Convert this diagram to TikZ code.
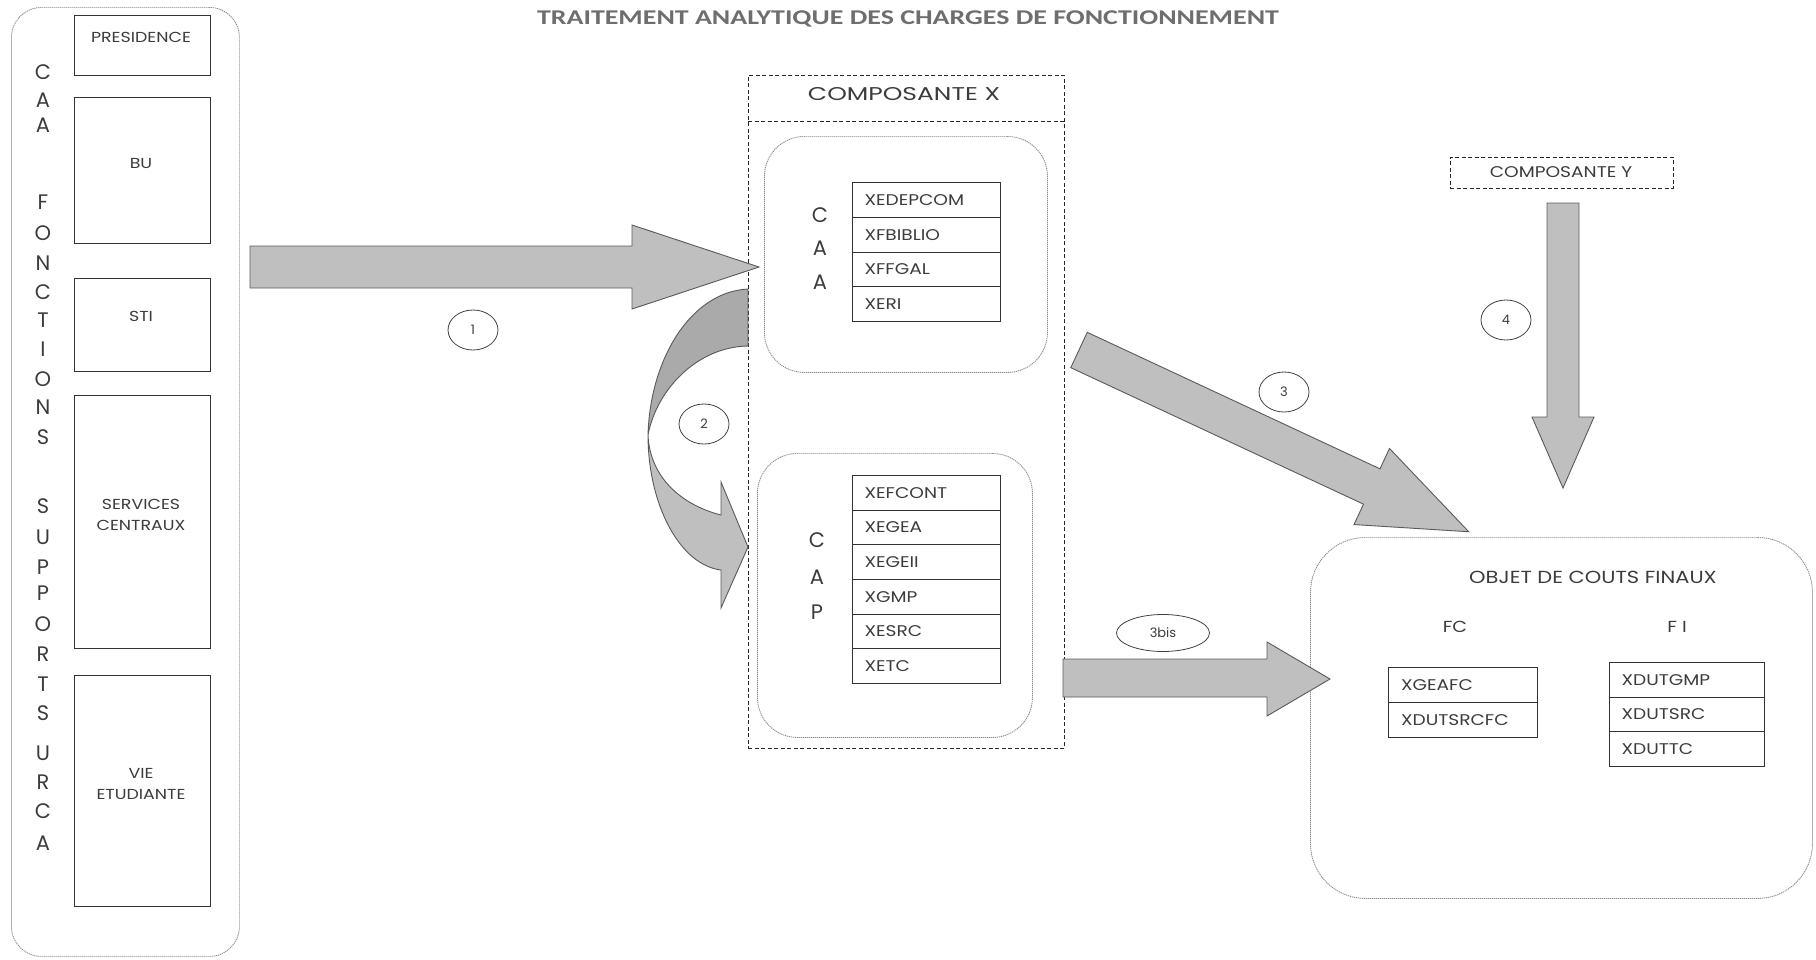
\documentclass[tikz,border=0pt]{standalone}
\usepackage{fontspec}
\setmainfont{Carlito}
\newfontfamily\pop{Poppins}
\newfontfamily\popw{Poppins}[FakeStretch=1.2]
\newfontfamily\popx{Poppins}[FakeStretch=1.35]
\newfontfamily\titlef{Carlito}[FakeStretch=1.33]
\usetikzlibrary{shapes.geometric}
\definecolor{arrowfill}{HTML}{BFBFBF}
\definecolor{arrowdark}{HTML}{AAAAAA}
\definecolor{arrowline}{HTML}{5A5A5A}
\definecolor{dotgray}{HTML}{8C8C8C}
\definecolor{txtgray}{HTML}{3C3C3C}
\definecolor{titlegray}{HTML}{6E6E6E}
\begin{document}
\begin{tikzpicture}[x=1pt,y=-1pt,
  arrowshape/.style={fill=arrowfill, draw=arrowline, line width=0.9pt, line join=miter},
  darkband/.style={fill=arrowdark, draw=arrowline, line width=0.9pt},
  dotbox/.style={draw=dotgray, line width=0.9pt, dash pattern=on 1.2pt off 0.8pt, inner sep=0pt, anchor=north west},
  dashbox/.style={draw=black!85, line width=0.9pt, dash pattern=on 4pt off 2.5pt, inner sep=0pt},
  solidbox/.style={draw=black!80, line width=1.1pt, inner sep=0pt, anchor=north west},
  lbl/.style={font=\popw\fontsize{14.5}{21}\selectfont, text=txtgray, align=center},
  bigletter/.style={font=\pop\fontsize{21}{24}\selectfont, text=txtgray, inner sep=0pt},
  cell/.style={solidbox, minimum width=148pt, text width=124pt, inner xsep=12pt, align=left,
    font=\popw\fontsize{15.5}{18}\selectfont, text=txtgray},
  numlabel/.style={draw=black!75, line width=0.8pt, ellipse, minimum width=50pt, minimum height=40pt,
    inner sep=0pt, font=\pop\fontsize{13}{15}\selectfont, text=txtgray}
]
\useasboundingbox (0,0) rectangle (1816,959);

% title
\node[font=\titlef\fontsize{21}{24}\selectfont\bfseries, text=titlegray] (title) at (908,19)
  {TRAITEMENT ANALYTIQUE DES CHARGES DE FONCTIONNEMENT};

% left column: CAA fonctions supports URCA
\node[dotbox, rounded corners=30pt, minimum width=228pt, minimum height=949pt] (supp) at (11,7) {};
\node[solidbox, minimum width=136pt, minimum height=60pt] (pres) at (74,15) {};
\node[lbl] (prest) at (141,37) {PRESIDENCE};
\node[solidbox, minimum width=136pt, minimum height=146pt] (bu) at (74,97) {};
\node[lbl] (but) at (141,163) {BU};
\node[solidbox, minimum width=136pt, minimum height=93pt] (sti) at (74,278) {};
\node[lbl] (stit) at (141,316) {STI};
\node[solidbox, minimum width=136pt, minimum height=253pt] (serv) at (74,395) {};
\node[lbl] (servt) at (141,515) {SERVICES\\CENTRAUX};
\node[solidbox, minimum width=136pt, minimum height=231pt] (vie) at (74,675) {};
\node[lbl] (viet) at (141,784) {VIE\\ETUDIANTE};

\foreach \l/\yy [count=\i] in {C/72,A/100,A/125,F/202,O/233,N/263,C/292,T/320,I/349,O/379,N/407,S/437,
  S/506,U/537,P/567,P/593,O/624,R/654,T/684,S/713,U/753,R/782,C/811,A/843}
  \node[bigletter] (v\i) at (43,\yy) {\l};

% composante X
\node[dashbox, anchor=north west, minimum width=316pt, minimum height=673pt] (compx) at (748,75) {};
\draw[dashbox] ([yshift=-46pt]compx.north west) -- ([yshift=-46pt]compx.north east);
\node[font=\popx\fontsize{18.5}{22}\selectfont, text=txtgray] (compxt) at (904,94) {COMPOSANTE X};

% CAA block
\node[dotbox, rounded corners=40pt, minimum width=283pt, minimum height=236pt] (caa) at (764,136) {};
\foreach \t [count=\i] in {XEDEPCOM,XFBIBLIO,XFFGAL,XERI}
  \node[cell, minimum height=34.75pt] (caa\i) at (852,{182+(\i-1)*34.75}) {\t};
\node[bigletter] (caaC) at (820,215) {C};
\node[bigletter] (caaA1) at (820,248) {A};
\node[bigletter] (caaA2) at (820,282) {A};

% CAP block
\node[dotbox, rounded corners=40pt, minimum width=275pt, minimum height=284pt] (cap) at (757,453) {};
\foreach \t [count=\i] in {XEFCONT,XEGEA,XEGEII,XGMP,XESRC,XETC}
  \node[cell, minimum height=34.67pt] (cap\i) at (852,{475+(\i-1)*34.67}) {\t};
\node[bigletter] (capC) at (817,540) {C};
\node[bigletter] (capA) at (817,577) {A};
\node[bigletter] (capP) at (817,612) {P};

% composante Y
\node[dashbox, anchor=north west, minimum width=223pt, minimum height=31pt] (compy) at (1450,157) {};
\node[font=\popw\fontsize{15.5}{18}\selectfont, text=txtgray] (compyt) at (1561,172) {COMPOSANTE Y};

% objet de couts finaux
\node[dotbox, rounded corners=55pt, minimum width=502pt, minimum height=361pt] (obj) at (1310,537) {};
\node[font=\popw\fontsize{17.5}{20}\selectfont, text=txtgray] (objt) at (1593,577) {OBJET DE COUTS FINAUX};
\node[font=\popw\fontsize{16}{19}\selectfont, text=txtgray] (fc) at (1455,627) {FC};
\node[font=\popw\fontsize{16}{19}\selectfont, text=txtgray] (fi) at (1677,627) {F I};
\foreach \t [count=\i] in {XGEAFC,XDUTSRCFC}
  \node[cell, minimum width=149pt, minimum height=35pt] (fc\i) at (1388,{667+(\i-1)*35}) {\t};
\foreach \t [count=\i] in {XDUTGMP,XDUTSRC,XDUTTC}
  \node[cell, minimum width=155pt, text width=131pt, minimum height=34.67pt] (fi\i) at (1609,{662+(\i-1)*34.67}) {\t};

% arrow 1
\draw[arrowshape] (250,246) -- (632,246) -- (632,225) -- (759,267) -- (632,309) -- (632,288) -- (250,288) -- cycle;
\node[numlabel] (n1) at (473,330) {1};

% curved arrow 2
\draw[darkband] (748,289) .. controls (690,292) and (650,360) .. (648,435)
   .. controls (656,392) and (695,347) .. (748,346) -- cycle;
\draw[arrowshape] (648,435) .. controls (648,505) and (680,565) .. (721,570) -- (721,608) -- (748,547)
   -- (721,482) -- (721,515) .. controls (682,505) and (650,478) .. (648,435) -- cycle;
\node[numlabel] (n2) at (704,424) {2};

% arrow 3
\begin{scope}[shift={(1079,350)}, rotate=-25]
\draw[arrowshape] (0,-19.5) -- (323,-19.5) -- (323,-42) -- (430,0) -- (323,42) -- (323,19.5) -- (0,19.5) -- cycle;
\end{scope}
\node[numlabel] (n3) at (1284,392) {3};

% arrow 3bis
\draw[arrowshape] (1063,659) -- (1267,659) -- (1267,642) -- (1330,679) -- (1267,716) -- (1267,697) -- (1063,697) -- cycle;
\node[numlabel, minimum width=93pt, minimum height=37pt] (n3b) at (1163,633) {3bis};

% arrow 4
\draw[arrowshape] (1547,203) -- (1579,203) -- (1579,417) -- (1594,417) -- (1563,488) -- (1532,417) -- (1547,417) -- cycle;
\node[numlabel] (n4) at (1506,320) {4};
\end{tikzpicture}
\end{document}
